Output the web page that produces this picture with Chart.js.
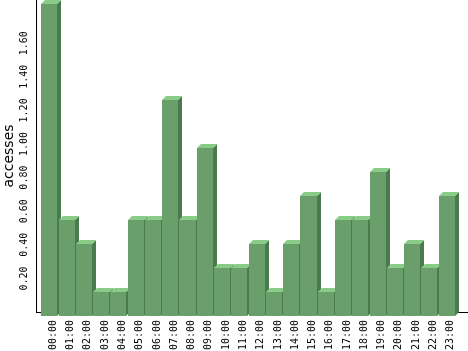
<!DOCTYPE html>
<html>
<head>
<meta charset="utf-8">
<script src="https://cdn.jsdelivr.net/npm/chart.js@4/dist/chart.umd.min.js"></script>
<style>
  html, body { margin: 0; padding: 0; background: #ffffff; }
  #wrap { width: 468px; height: 351px; }
</style>
</head>
<body>
<div id="wrap"><canvas id="c" width="468" height="351"></canvas></div>
<script>
// ---- data ----
const hours = ["00:00","01:00","02:00","03:00","04:00","05:00","06:00","07:00","08:00","09:00","10:00","11:00",
               "12:00","13:00","14:00","15:00","16:00","17:00","18:00","19:00","20:00","21:00","22:00","23:00"];
const accesses = [1.857, 0.571, 0.429, 0.143, 0.143, 0.571, 0.571, 1.286, 0.571, 1.000, 0.286, 0.286,
                  0.429, 0.143, 0.429, 0.714, 0.143, 0.571, 0.571, 0.857, 0.286, 0.429, 0.286, 0.714];
const yTickLabels = ["0.20","0.40","0.60","0.80","1.00","1.20","1.40","1.60"];
const yAxisTitle = "accesses";

// ---- style ----
const FRONT = '#6a9e6b';
const TOP = '#88cc88';
const SIDE = '#4b7a4f';
const DEPTH = 4;

const bars3d = {
  id: 'bars3d',
  afterDraw(chart) {
    const ctx = chart.ctx;
    const meta = chart.getDatasetMeta(0);
    ctx.save();
    ctx.globalAlpha = 1;
    ctx.globalCompositeOperation = 'source-over';
    meta.data.forEach((el) => {
      const p = el.getProps(['x', 'y', 'base', 'width'], true);
      const bl = Math.round(p.x - p.width / 2), br = Math.round(p.x + p.width / 2);
      const bt = Math.round(p.y), bb = Math.round(p.base);
      const fl = bl - DEPTH, fr = br - DEPTH, ft = bt + DEPTH, fb = bb + DEPTH;
      ctx.fillStyle = SIDE;
      ctx.beginPath();
      ctx.moveTo(fr, ft); ctx.lineTo(br, bt); ctx.lineTo(br, bb); ctx.lineTo(fr, fb);
      ctx.closePath(); ctx.fill();
      ctx.fillStyle = TOP;
      ctx.beginPath();
      ctx.moveTo(fl, ft); ctx.lineTo(bl, bt); ctx.lineTo(br, bt); ctx.lineTo(fr, ft);
      ctx.closePath(); ctx.fill();
      ctx.fillStyle = FRONT;
      ctx.fillRect(fl, ft, fr - fl, fb - ft);
    });
    ctx.restore();
  }
};

new Chart(document.getElementById('c'), {
  type: 'bar',
  data: {
    datasets: [{
      data: accesses.map((v, i) => ({ x: i, y: v })),
      backgroundColor: 'rgba(0,0,0,0)',
      borderWidth: 0,
      categoryPercentage: 1.0,
      barPercentage: 0.93
    }]
  },
  options: {
    responsive: false,
    animation: false,
    devicePixelRatio: 1,
    layout: { padding: 0 },
    plugins: { legend: { display: false }, tooltip: { enabled: false } },
    scales: {
      x: {
        type: 'linear',
        min: -1,
        max: 24,
        offset: false,
        grid: { display: false, drawTicks: false },
        border: { display: true, color: '#000000', width: 1 },
        ticks: {
          stepSize: 1,
          maxTicksLimit: 100,
          autoSkip: false,
          minRotation: 90,
          maxRotation: 90,
          padding: 8,
          color: '#000000',
          font: { family: 'DejaVu Sans Mono', size: 10 },
          callback: (v) => (Number.isInteger(v) && v >= 0 && v < hours.length) ? hours[v] : ''
        },
        afterFit(s) { s.height = 39; s.paddingLeft = 0; s.paddingRight = 0; s.paddingTop = 0; s.paddingBottom = 0; }
      },
      y: {
        min: 0,
        max: 1.857,
        grid: { display: false, color: '#000000', lineWidth: 1, drawTicks: false, z: -1 },
        border: { display: true, color: '#000000', width: 1 },
        title: {
          display: true,
          text: yAxisTitle,
          color: '#000000',
          font: { family: 'DejaVu Sans', size: 14 },
          padding: { top: 1, bottom: 0 }
        },
        ticks: {
          stepSize: 0.1,
          maxTicksLimit: 100,
          autoSkip: false,
          includeBounds: false,
          minRotation: 90,
          maxRotation: 90,
          crossAlign: 'center',
          padding: 0,
          color: '#000000',
          font: { family: 'DejaVu Sans Mono', size: 10 },
          callback: (v) => {
            const s = (Math.round(v * 100) / 100).toFixed(2);
            return yTickLabels.includes(s) ? s : '';
          }
        },
        afterFit(s) { s.width = 36; s.paddingLeft = 0; s.paddingRight = 0; s.paddingTop = 0; s.paddingBottom = 0; }
      }
    }
  },
  plugins: [bars3d]
});
</script>
</body>
</html>
